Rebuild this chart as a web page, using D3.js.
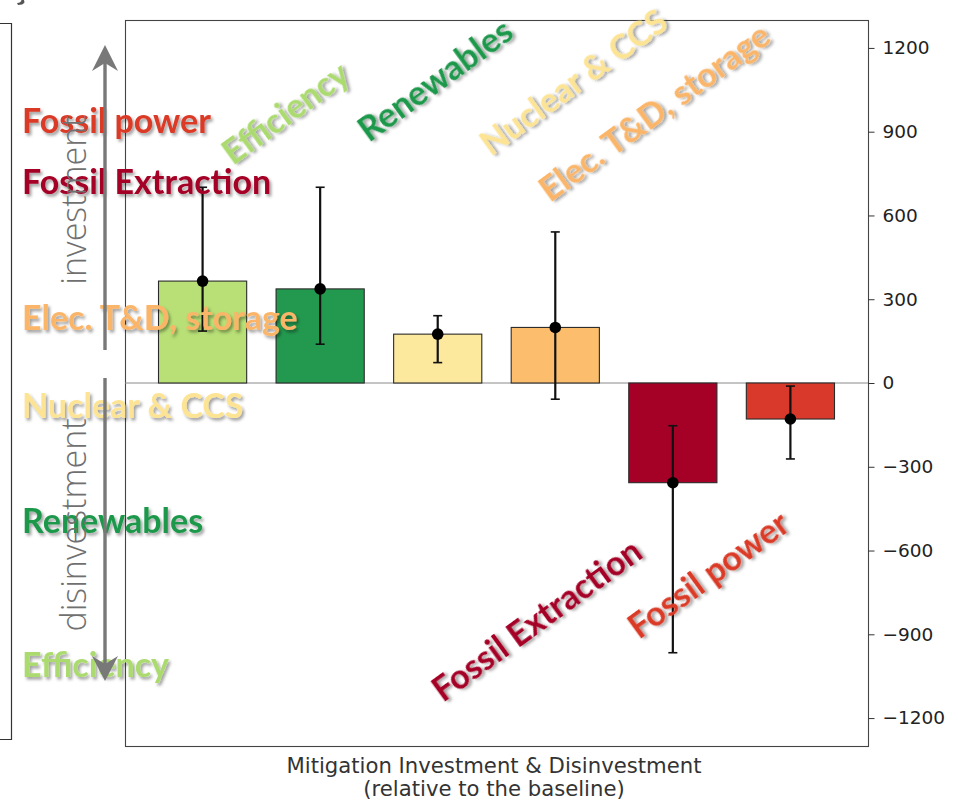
<!DOCTYPE html>
<html>
<head>
<meta charset="utf-8">
<script src="https://cdn.jsdelivr.net/npm/d3@7"></script>
<style>
  html, body { margin: 0; padding: 0; background: #fff; }
  svg { display: block; }
</style>
</head>
<body>
<svg id="chart" width="958" height="803"></svg>
<script>
// Sector categories, in bar order
const categories = ["Efficiency", "Renewables", "Nuclear & CCS", "Elec. T&D, storage", "Fossil Extraction", "Fossil power"];
// Mean investment change and uncertainty range (same units as the axis)
const values  = [365, 337, 175, 199, -357, -129];
const errLow  = [186, 139, 73, -58, -966, -272];
const errHigh = [701, 701, 241, 541, -153, -11];
// Axis ticks
const yTicks = [-1200, -900, -600, -300, 0, 300, 600, 900, 1200];
// Colours per category
const barColors   = ["#b8e076", "#23994f", "#fde99e", "#fcbe6d", "#a50026", "#d9392a"];
const labelColors = ["#abdb6e", "#1f984c", "#fde494", "#fbb568", "#a50026", "#db3a27"];
// Stacking order of the side legend (top to bottom)
const legendOrder = ["Fossil power", "Fossil Extraction", "Elec. T&D, storage", "Nuclear & CCS", "Renewables", "Efficiency"];

const svg = d3.select("#chart");
const labelFont = "Lato, 'Open Sans', sans-serif";
const labelSize = 34;

// drop shadow for the coloured sector labels
const defs = svg.append("defs");
const f = defs.append("filter").attr("id", "shadow").attr("x", "-5%").attr("y", "-15%").attr("width", "115%").attr("height", "140%");
f.append("feDropShadow").attr("dx", 2).attr("dy", 2.5).attr("stdDeviation", 1.8)
  .attr("flood-color", "#000").attr("flood-opacity", 0.38);

const plot = { left: 125, right: 868, top: 20, bottom: 746 };
const x = d3.scaleLinear().domain([-0.66, 5.66]).range([plot.left, plot.right]);
const y = d3.scaleLinear().domain([-1300, 1300]).range([plot.bottom, plot.top]);
const halfW = 0.375;
const colorOf = d3.scaleOrdinal().domain(categories).range(labelColors);

// ---------- bar chart ----------

// plot frame
svg.append("rect").attr("x", plot.left + 0.5).attr("y", plot.top + 0.5)
  .attr("width", plot.right - plot.left).attr("height", plot.bottom - plot.top)
  .attr("fill", "none").attr("stroke", "#444").attr("stroke-width", 1.1);

// zero line
svg.append("line").attr("x1", plot.left).attr("x2", plot.right).attr("y1", y(0)).attr("y2", y(0))
  .attr("stroke", "#8a8a8a").attr("stroke-width", 1);

// bars
svg.append("g").selectAll("rect").data(categories).join("rect")
  .attr("x", (d, i) => x(i - halfW))
  .attr("width", (d, i) => x(i + halfW) - x(i - halfW))
  .attr("y", (d, i) => y(Math.max(0, values[i])))
  .attr("height", (d, i) => Math.abs(y(values[i]) - y(0)))
  .attr("fill", (d, i) => barColors[i])
  .attr("stroke", "#2a2a2a").attr("stroke-width", 1.1);

// error bars with caps and mean markers
const eb = svg.append("g").selectAll("g").data(categories).join("g");
eb.append("line").attr("x1", (d, i) => x(i)).attr("x2", (d, i) => x(i))
  .attr("y1", (d, i) => y(errLow[i])).attr("y2", (d, i) => y(errHigh[i]))
  .attr("stroke", "#111").attr("stroke-width", 2.2);
eb.append("line").attr("x1", (d, i) => x(i) - 4.5).attr("x2", (d, i) => x(i) + 4.5)
  .attr("y1", (d, i) => y(errLow[i])).attr("y2", (d, i) => y(errLow[i]))
  .attr("stroke", "#111").attr("stroke-width", 1.6);
eb.append("line").attr("x1", (d, i) => x(i) - 4.5).attr("x2", (d, i) => x(i) + 4.5)
  .attr("y1", (d, i) => y(errHigh[i])).attr("y2", (d, i) => y(errHigh[i]))
  .attr("stroke", "#111").attr("stroke-width", 1.6);
eb.append("circle").attr("cx", (d, i) => x(i)).attr("cy", (d, i) => y(values[i])).attr("r", 5.8).attr("fill", "#000");

// right-hand value axis
const axis = svg.append("g").attr("transform", `translate(${plot.right + 0.5},0)`)
  .call(d3.axisRight(y).tickValues(yTicks).tickSize(6).tickPadding(8).tickFormat(d3.format("d")));
axis.select(".domain").remove();
axis.selectAll(".tick line").attr("stroke", "#333");
axis.selectAll(".tick text").attr("font-family", "'DejaVu Sans', sans-serif").attr("font-size", 18.5).attr("fill", "#222");

// x-axis caption
const cap = svg.append("text").attr("text-anchor", "middle").attr("font-family", "'DejaVu Sans', sans-serif")
  .attr("font-size", 21.2).attr("fill", "#333");
cap.append("tspan").attr("x", 494).attr("y", 773).text("Mitigation Investment & Disinvestment");
cap.append("tspan").attr("x", 494).attr("y", 796).text("(relative to the baseline)");

// ---------- annotation layer ----------

// tail of the panel letter peeking in at the top-left corner
svg.append("path").attr("d", "M24,0 L24.5,2.5 Q23,5 18,5 L17,3 Q21,3 21.5,0 Z").attr("fill", "#555");

// legend box edge
svg.append("path").attr("d", "M0,23.5H11.5V739.5H0").attr("fill", "none").attr("stroke", "#333").attr("stroke-width", 1.2);

// side legend
const legendBaselines = [133, 194, 330, 418, 533, 677];
svg.append("g").selectAll("text").data(legendOrder).join("text")
  .attr("x", 22).attr("y", (d, i) => legendBaselines[i])
  .attr("font-family", labelFont).attr("font-weight", "bold").attr("font-size", labelSize)
  .attr("fill", d => colorOf(d)).attr("filter", "url(#shadow)").text(d => d);

// rotated sector names beside the bars
const rotPos = {
  "Efficiency": [233, 166],
  "Renewables": [369, 143],
  "Nuclear & CCS": [491, 157],
  "Elec. T&D, storage": [550, 203],
  "Fossil Extraction": [443, 703],
  "Fossil power": [639, 640]
};
svg.append("g").selectAll("text").data(categories).join("text")
  .attr("transform", d => `translate(${rotPos[d][0]},${rotPos[d][1]}) rotate(-36)`)
  .attr("font-family", labelFont).attr("font-weight", "bold").attr("font-size", labelSize)
  .attr("fill", d => colorOf(d)).attr("filter", "url(#shadow)").text(d => d);

// investment / disinvestment arrows
const arrowCol = "#787878";
const ax = 105;
svg.append("line").attr("x1", ax).attr("x2", ax).attr("y1", 350).attr("y2", 62).attr("stroke", arrowCol).attr("stroke-width", 3.4);
svg.append("path").attr("d", `M${ax},45 L${ax + 13},71 L${ax},63 L${ax - 13},71 Z`).attr("fill", arrowCol);
svg.append("line").attr("x1", ax).attr("x2", ax).attr("y1", 378).attr("y2", 664).attr("stroke", arrowCol).attr("stroke-width", 3.4);
svg.append("path").attr("d", `M${ax},681 L${ax + 13},656 L${ax},664 L${ax - 13},656 Z`).attr("fill", arrowCol);

const dirFont = "'Open Sans', Lato, sans-serif";
svg.append("text").attr("transform", "translate(86,200) rotate(-90)").attr("text-anchor", "middle")
  .attr("font-family", dirFont).attr("font-weight", 300).attr("font-size", 34).attr("fill", "#707070").text("investment");
svg.append("text").attr("transform", "translate(86,525) rotate(-90)").attr("text-anchor", "middle")
  .attr("font-family", dirFont).attr("font-weight", 300).attr("font-size", 34).attr("fill", "#707070").text("disinvestment");
</script>
</body>
</html>
